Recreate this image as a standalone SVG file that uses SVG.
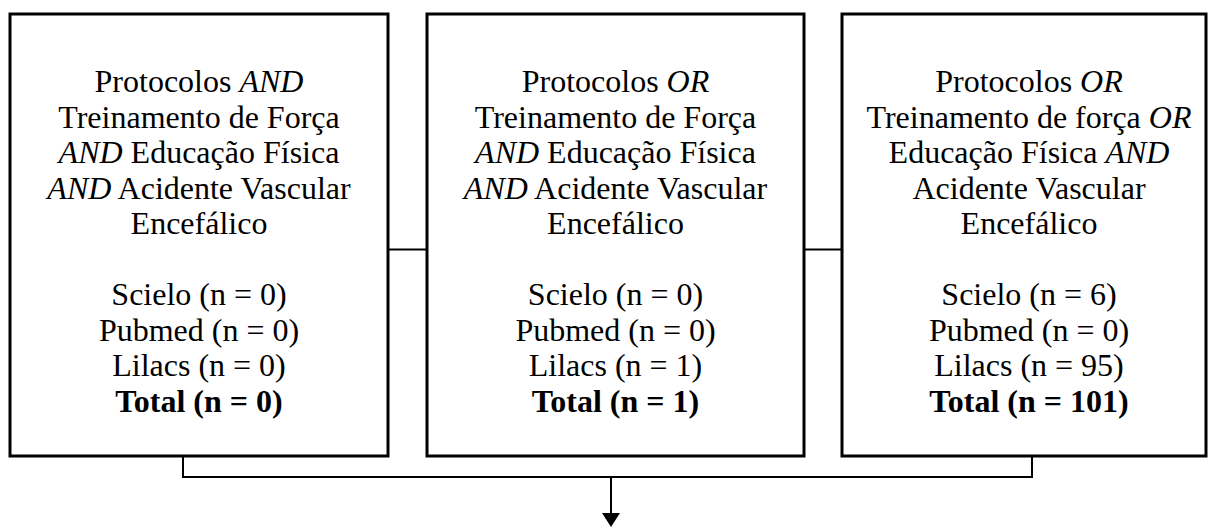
<svg xmlns="http://www.w3.org/2000/svg" width="1208" height="527" viewBox="0 0 1208 527">
<defs>
<style>
.box{fill:#fff;stroke:#000;stroke-width:3}
.t{font-family:"Liberation Serif","Times New Roman",serif;font-size:32px;fill:#000;text-anchor:middle}
.b{font-weight:bold}
.c{fill:none;stroke:#000;stroke-width:2}
</style>
</defs>
<rect width="1208" height="527" fill="#fff"/>
<g id="connectors">
<line class="c" x1="388" y1="249.5" x2="427" y2="249.5"/>
<line class="c" x1="804" y1="249.5" x2="842" y2="249.5"/>
<polyline class="c" points="183,456 183,477 1032,477 1032,456"/>
<line class="c" x1="611" y1="477" x2="611" y2="514"/>
<path d="M602,513 L620,513 L611,527 z" fill="#000"/>
</g>
<g id="box1">
<rect class="box" x="10" y="14" width="378" height="442"/>
<text class="t"><tspan x="199" y="92">Protocolos <tspan font-style="italic">AND</tspan></tspan><tspan x="199" y="127.5">Treinamento de Força</tspan><tspan x="199" y="163"><tspan font-style="italic">AND</tspan> Educação Física</tspan><tspan x="199" y="198.5"><tspan font-style="italic">AND</tspan> Acidente Vascular</tspan><tspan x="199" y="234">Encefálico</tspan><tspan x="199" y="305">Scielo (n = 0)</tspan><tspan x="199" y="340.5">Pubmed (n = 0)</tspan><tspan x="199" y="376">Lilacs (n = 0)</tspan><tspan x="199" y="411.5" class="b">Total (n = 0)</tspan></text>
</g>
<g id="box2">
<rect class="box" x="427" y="14" width="377" height="442"/>
<text class="t"><tspan x="615.5" y="92">Protocolos <tspan font-style="italic">OR</tspan></tspan><tspan x="615.5" y="127.5">Treinamento de Força</tspan><tspan x="615.5" y="163"><tspan font-style="italic">AND</tspan> Educação Física</tspan><tspan x="615.5" y="198.5"><tspan font-style="italic">AND</tspan> Acidente Vascular</tspan><tspan x="615.5" y="234">Encefálico</tspan><tspan x="615.5" y="305">Scielo (n = 0)</tspan><tspan x="615.5" y="340.5">Pubmed (n = 0)</tspan><tspan x="615.5" y="376">Lilacs (n = 1)</tspan><tspan x="615.5" y="411.5" class="b">Total (n = 1)</tspan></text>
</g>
<g id="box3">
<rect class="box" x="842" y="14" width="364" height="442"/>
<text class="t"><tspan x="1029" y="92">Protocolos <tspan font-style="italic">OR</tspan></tspan><tspan x="1029" y="127.5">Treinamento de força <tspan font-style="italic">OR</tspan></tspan><tspan x="1029" y="163">Educação Física <tspan font-style="italic">AND</tspan></tspan><tspan x="1029" y="198.5">Acidente Vascular</tspan><tspan x="1029" y="234">Encefálico</tspan><tspan x="1029" y="305">Scielo (n = 6)</tspan><tspan x="1029" y="340.5">Pubmed (n = 0)</tspan><tspan x="1029" y="376">Lilacs (n = 95)</tspan><tspan x="1029" y="411.5" class="b">Total (n = 101)</tspan></text>
</g>
</svg>
